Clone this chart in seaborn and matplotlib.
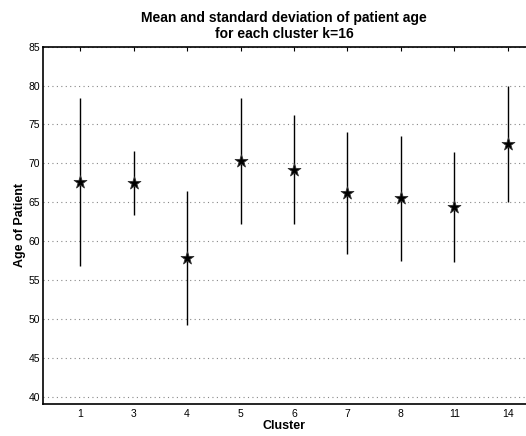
import matplotlib
matplotlib.use("Agg")
import matplotlib.pyplot as plt
import seaborn as sns
import pandas as pd
import numpy as np

clusters = ["1", "3", "4", "5", "6", "7", "8", "11", "14"]
mean_age = [67.6, 67.5, 57.8, 70.3, 69.2, 66.2, 65.5, 64.35, 72.45]
std_age = [10.8, 4.1, 8.6, 8.1, 6.95, 7.85, 8.0, 7.05, 7.45]

sns.set_style("white")
plt.rcParams["font.family"] = ["Liberation Sans", "DejaVu Sans"]
plt.rcParams["text.color"] = "black"
plt.rcParams["axes.labelcolor"] = "black"

df = pd.DataFrame({"Cluster": clusters, "Mean": mean_age, "Std": std_age})

fig = plt.figure(figsize=(5.26, 4.36), dpi=100)
ax = fig.add_axes([0.0812, 0.0734, 0.9188, 0.8196])

pos = np.arange(len(clusters))
lower = df["Mean"] - df["Std"]
upper = df["Mean"] + df["Std"]
ax.vlines(pos, lower, upper, color="black", linewidth=1.0, zorder=2)

sns.scatterplot(data=df, x="Cluster", y="Mean", marker="*", s=95,
                color="black", edgecolor="#333333", linewidth=0.6,
                ax=ax, zorder=3, legend=False)

ax.set_xlim(-0.70, 8.34)
ax.set_ylim(39.05, 85)
ax.set_yticks(np.arange(40, 86, 5))
ax.set_xticks(pos)
ax.set_xticklabels(clusters)

ax.yaxis.grid(True, linestyle=(0, (1, 3)), color="#888888", linewidth=0.8)
ax.xaxis.grid(False)
ax.set_axisbelow(True)

ax.tick_params(axis="both", direction="in", length=3, width=0.8,
               labelsize=7.5, colors="black", top=True, right=False)
ax.tick_params(axis="x", pad=3.5)
ax.tick_params(axis="y", pad=2)

for side in ["left", "bottom", "top"]:
    ax.spines[side].set_visible(True)
    ax.spines[side].set_color("black")
    ax.spines[side].set_linewidth(1.2)
ax.spines["right"].set_visible(False)

ax.set_xlabel("Cluster", fontsize=9, fontweight="bold", labelpad=1)
ax.set_ylabel("Age of Patient", fontsize=9, fontweight="bold", labelpad=2)
ax.set_title("Mean and standard deviation of patient age\nfor each cluster k=16",
             fontsize=10, fontweight="bold", pad=6, linespacing=1.2)

fig.savefig("out.png", dpi=100)
